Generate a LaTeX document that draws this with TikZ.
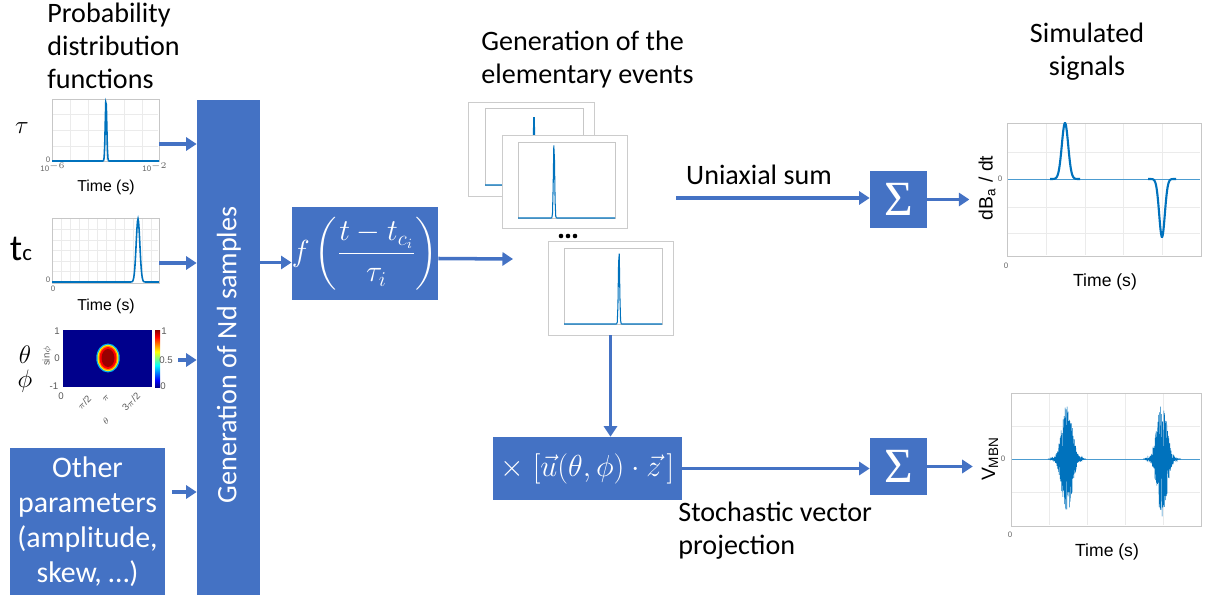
\documentclass[tikz,border=0pt]{standalone}
\usepackage{amsmath}
\usepackage{fontspec}
\setmainfont{Carlito}
\newfontfamily\plotfont{Liberation Sans}
\newfontfamily\sigmafont{Liberation Serif}
\usepackage{tikz}
\usetikzlibrary{positioning}
\usetikzlibrary{arrows.meta}
\definecolor{boxblue}{RGB}{68,114,196}
\definecolor{sigblue}{RGB}{0,114,189}
\definecolor{jetdark}{RGB}{0,0,140}
\pgfdeclareverticalshading{jet}{100bp}{color(0bp)=(jetdark); color(25bp)=(jetdark); color(31bp)=(blue); color(44bp)=(cyan); color(56bp)=(yellow); color(69bp)=(red); color(75bp)=(red!55!black); color(100bp)=(red!55!black)}

\begin{document}
\begin{tikzpicture}[x=0.02cm, y=-0.02cm,
        blk/.style={rectangle, fill=boxblue, text=white, inner sep=0pt},
        sumbox/.style={rectangle, fill=boxblue, text=white, inner sep=0pt, minimum size=1.14cm, font=\sigmafont\fontsize{28}{28}\selectfont},
        axbox/.style={rectangle, draw=black!22, fill=white, inner sep=0pt},
        evframe/.style={rectangle, draw=black!20, fill=white, inner sep=0pt},
        arr/.style={draw=boxblue, line width=2pt, -{Triangle[length=6pt, width=7.5pt]}},
        sig/.style={sigblue, line width=0.9pt},
        grd/.style={black!8, line width=0.3pt},
        txt/.style={font=\fontsize{16}{18.7}\selectfont, inner sep=0pt},
        ticklbl/.style={font=\plotfont\fontsize{4.5}{5}\selectfont, text=black!60, inner sep=0pt},
        maplbl/.style={font=\plotfont\fontsize{5.5}{6}\selectfont, text=black!65, inner sep=0pt},
        axlbl/.style={font=\plotfont\fontsize{9}{10}\selectfont, inner sep=0pt}
      ]
        \useasboundingbox (0,0) rectangle (1207,601);
        \pgfmathsetseed{7}

        \node[txt, align=left, anchor=north west]  (pdftxt)  at (47,3)     {Probability\\distribution\\functions};
        \node[txt, align=left, anchor=north west]  (evtxt)   at (481,31)   {Generation of the\\elementary events};
        \node[txt, align=center, anchor=north]     (simtxt)  at (1087,23)  {Simulated\\signals};

        \node[font=\fontsize{15}{15}\selectfont]  (taulbl)  at (22,128)  {$\tau$};
        \node                                      (tclbl)   at (21,249)  {\fontsize{21}{21}\selectfont t\fontsize{13}{13}\selectfont c};
        \node[font=\fontsize{15}{15}\selectfont]  (thlbl)   at (25,355)  {$\theta$};
        \node[font=\fontsize{15}{15}\selectfont]  (phlbl)   at (25,381)  {$\phi$};

        % tau pdf
        \node[axbox, minimum width=2.14cm, minimum height=1.24cm]  (taup)  at (105.5,130)  {};
        \foreach \gx in {70,88,106,124,142} \draw[grd] (\gx,100) -- (\gx,160);
        \foreach \gy in {114,130,146} \draw[grd] (53,\gy) -- (158,\gy);
        \draw[sig] plot[domain=52:159, samples=200] (\x, {161-61*exp(-((\x-106)/1.1)^2)});
        \node[ticklbl]  at (48,160)   {0};
        \node[ticklbl]  at (53,167)   {10$^{-6}$};
        \node[ticklbl]  at (155,167)  {10$^{-2}$};
        \node[axlbl]    (taux)  at (106,187)  {Time (s)};

        % tc pdf
        \node[axbox, minimum width=2.14cm, minimum height=1.3cm]  (tcp)  at (105.5,250.5)  {};
        \foreach \gx in {61,70,79,88,97,106,115,124,133,142,151} \draw[grd] (\gx,219) -- (\gx,282);
        \foreach \gy in {229,240,250,261,271} \draw[grd] (53,\gy) -- (158,\gy);
        \draw[sig] plot[domain=52:159, samples=200] (\x, {282-63*exp(-((\x-138)/2.6)^2)});
        \node[ticklbl]  at (48,280)  {0};
        \node[ticklbl]  at (53,289)  {0};
        \node[axlbl]    (tcx)  at (106,306)  {Time (s)};

        % theta phi map
        \node[rectangle, fill=jetdark, inner sep=0pt, minimum width=1.8cm, minimum height=1.14cm]  (thp)  at (107.5,358.5)  {};
        \fill[cyan]          (108,358) ellipse [x radius=0.235cm, y radius=0.29cm];
        \fill[yellow]        (108,358) ellipse [x radius=0.21cm, y radius=0.265cm];
        \fill[orange]        (108,358) ellipse [x radius=0.19cm, y radius=0.245cm];
        \fill[red]           (108,358) ellipse [x radius=0.17cm, y radius=0.22cm];
        \fill[red!60!black]  (108,358) ellipse [x radius=0.13cm, y radius=0.18cm];
        \shade[shading=jet]  (155,330) rectangle (160,387);
        \node[maplbl]  at (57,331)  {1};
        \node[maplbl]  at (57,358)  {0};
        \node[maplbl]  at (54,386)  {-1};
        \node[maplbl, rotate=90]  at (47,356)  {sin$\phi$};
        \node[maplbl]  at (164,331)  {1};
        \node[maplbl]  (cbmid)  at (166,360)  {0.5};
        \node[maplbl]  at (163,386)  {0};
        \node[maplbl]  at (61,396)  {0};
        \node[maplbl, rotate=45]  at (84,403)  {$\pi$/2};
        \node[maplbl, rotate=45]  at (106,398)  {$\pi$};
        \node[maplbl, rotate=45]  at (131,402)  {3$\pi$/2};
        \node[maplbl, rotate=45]  at (106,421)  {$\theta$};

        \node[blk, minimum width=1.26cm, minimum height=9.9cm]  (gen)  at (228.5,347.5)  {};
        \node[txt, rotate=90, text=white]  (gentxt)  at (229,355)  {Generation of Nd samples};

        \node[blk, minimum width=3.1cm, minimum height=2.94cm, align=center, font=\fontsize{17}{20}\selectfont]  (other)  at (87.5,521.5)  {Other\\parameters\\(amplitude,\\skew, …)};

        \node[blk, minimum width=2.88cm, minimum height=1.86cm, font=\fontsize{17}{20}\selectfont]  (fbox)  at (365,253.5)  {$f\left(\dfrac{t-t_{c_i}}{\tau_i}\right)$};

        % elementary events
        \node[evframe, minimum width=2.52cm, minimum height=1.88cm]  (ev1)  at (531,149)  {};
        \draw[black!22] (485,108) rectangle (583,185);
        \draw[sig, line width=0.6pt] plot[domain=485:583, samples=150] (\x, {185-77*exp(-((\x-534)/0.9)^2)});
        \node[evframe, minimum width=2.5cm, minimum height=1.86cm]  (ev2)  at (564.5,181.5)  {};
        \draw[black!22] (518,142) rectangle (615,218);
        \draw[sig, line width=0.6pt] plot[domain=518:615, samples=150] (\x, {218-76*exp(-((\x-554)/0.9)^2)});
        \node[evframe, minimum width=2.5cm, minimum height=1.88cm]  (ev3)  at (610.5,288)  {};
        \draw[black!22] (564,248) rectangle (662,324);
        \draw[sig, line width=0.6pt] plot[domain=564:662, samples=150] (\x, {324-76*exp(-((\x-619)/0.9)^2)});
        \foreach \dx in {-7,0,7} \fill (568+\dx,236) circle (1.3pt);
        \coordinate (evin) at (513,259);

        \node[txt]  (unitxt)  at (759,175)  {Uniaxial sum};
        \coordinate (uniin) at (676,198);
        \node[txt, align=left, anchor=north west]  (stotxt)  at (678,502)  {Stochastic vector\\projection};

        \node[sumbox]  (sum1)  at (898.5,199.5)  {Σ};
        \node[sumbox]  (sum2)  at (898.5,466.5)  {Σ};
        \node[blk, minimum width=3.78cm, minimum height=1.26cm, font=\fontsize{16}{20}\selectfont]  (proj)  at (587.5,468.5)  {$\times\;[\vec{u}(\theta,\phi)\cdot\vec{z}\,]$};

        % simulated signals
        \node[axbox, minimum width=3.88cm, minimum height=2.66cm]  (sigtop)  at (1104,189.5)  {};
        \foreach \gx in {1046,1085,1123,1162} \draw[grd] (\gx,124) -- (\gx,255);
        \foreach \gy in {152,207,233} \draw[grd] (1008,\gy) -- (1200,\gy);
        \draw[sigblue!70, line width=0.5pt] (1008,179) -- (1200,179);
        \draw[sig, line width=1.2pt] plot[domain=1050:1080, samples=80] (\x, {179-56*exp(-((\x-1065)/4.5)^2)});
        \draw[sig, line width=1.2pt] plot[domain=1148:1176, samples=80] (\x, {179+58*exp(-((\x-1162)/4)^2)});
        \node[ticklbl]  at (1000,179)  {0};
        \node[ticklbl]  at (1006,266)  {0};
        \node[axlbl, font=\plotfont\fontsize{10}{11}\selectfont]  (topx)  at (1105,282)  {Time (s)};
        \node[rotate=90, inner sep=1pt, font=\plotfont\fontsize{11}{12}\selectfont]  (dbdt)  at (987,188)  {dB\textsubscript{a} / dt};

        \node[axbox, minimum width=3.8cm, minimum height=2.66cm]  (sigbot)  at (1106,459.5)  {};
        \foreach \gx in {1049,1087,1125,1163} \draw[grd] (\gx,394) -- (\gx,525);
        \foreach \gy in {426,492} \draw[grd] (1012,\gy) -- (1200,\gy);
        \draw[sigblue!70, line width=0.5pt] (1012,459) -- (1200,459);
        \draw[sigblue, line width=0.3pt] plot[domain=1048:1086, samples=500] (\x, {459+58*rand*exp(-((\x-1067)/7)^2)});
        \draw[sigblue, line width=0.3pt] plot[domain=1143:1181, samples=500] (\x, {459+58*rand*exp(-((\x-1162)/7)^2)});
        \node[ticklbl]  at (1003,459)  {0};
        \node[ticklbl]  at (1010,535)  {0};
        \node[axlbl, font=\plotfont\fontsize{10}{11}\selectfont]  (botx)  at (1107,552)  {Time (s)};
        \node[rotate=90, inner sep=1pt, font=\plotfont\fontsize{11}{12}\selectfont]  (vmbn)  at (990,459)  {V\textsubscript{MBN}};

        \draw[arr]  ([yshift=-0.28cm]taup.east) -- ([yshift=-0.28cm]taup.east -| gen.west);
        \draw[arr]  ([yshift=-0.25cm]tcp.east) -- ([yshift=-0.25cm]tcp.east -| gen.west);
        \draw[arr, shorten <=3pt]  (cbmid.east) -- (cbmid.east -| gen.west);
        \draw[arr, shorten <=4pt]  ([yshift=0.59cm]other.east) -- ([yshift=0.59cm]other.east -| gen.west);
        \draw[arr]  ([yshift=-0.18cm]fbox.west -| gen.east) -- ([yshift=-0.18cm]fbox.west);
        \draw[arr]  ([yshift=-0.1cm]fbox.east) -- (evin);
        \draw[arr]  (ev3.south) -- (ev3.south |- proj.north);
        \draw[arr]  (uniin) -- (uniin -| sum1.west);
        \draw[arr]  (proj.east) -- (proj.east -| sum2.west);
        \draw[arr, shorten >=4pt]  (sum1.east) -- (sum1.east -| dbdt.north);
        \draw[arr, shorten >=4pt]  (sum2.east) -- (sum2.east -| vmbn.north);
      \end{tikzpicture}
\end{document}
